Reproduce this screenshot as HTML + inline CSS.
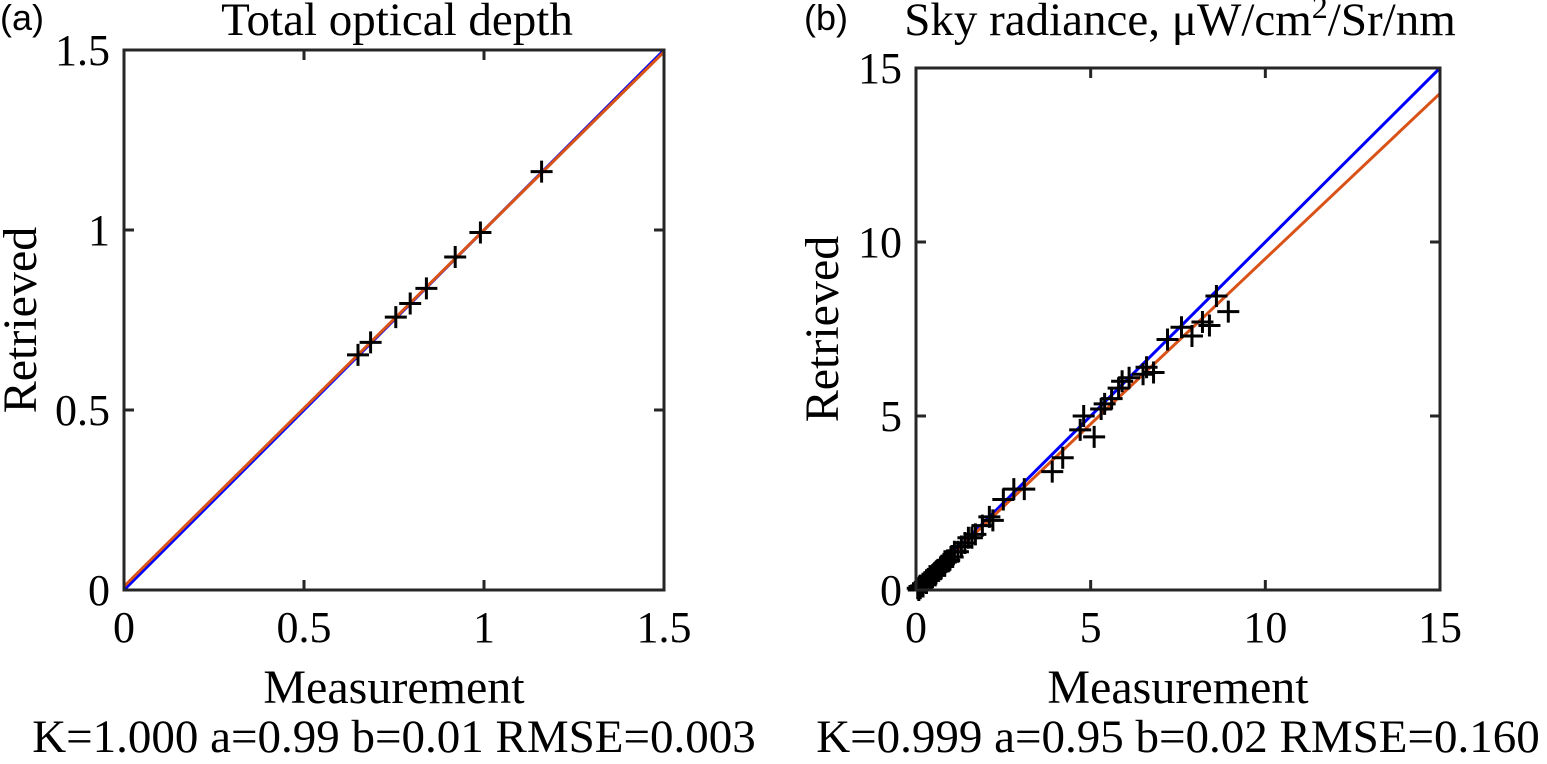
<!DOCTYPE html>
<html><head><meta charset="utf-8"><style>
body{margin:0;background:#fff}
svg text{font-family:"Liberation Serif",serif;fill:#000}
</style></head><body>
<svg id="c" width="1547" height="759" xmlns="http://www.w3.org/2000/svg"></svg>
<script>
const leftTicks=[0,0.5,1,1.5];
const leftTickLabels=["0","0.5","1","1.5"];
const leftMeasX=[0.65,0.685,0.755,0.795,0.84,0.92,0.99,1.16];
const leftRetY=[0.653,0.688,0.758,0.796,0.838,0.925,0.993,1.162];
const leftFitA=0.99, leftFitB=0.01;
const rightTicks=[0,5,10,15];
const rightTickLabels=["0","5","10","15"];
const rightMeasX=[8.94,8.6,8.2,8.4,7.9,7.6,7.2,6.8,6.6,6.5,6.1,5.9,5.8,5.6,5.3,5.4,5.1,4.8,4.7,4.2,3.9,3.1,2.8,2.5,2.1,1.9,1.7,1.5,1.3,1.1,1.0,0.9,0.8,0.7,0.6,0.5,0.4,0.3,0.2,0.1,0.05,1.2,0.95,0.75,0.55,0.35,0.25,0.15,1.6,2.2,0.45,0.65,0.85,1.05,1.4,0.3,0.2,0.12,0.08,0.55,0.7];
const rightRetY=[8.0,8.45,7.7,7.6,7.3,7.55,7.2,6.25,6.4,6.2,6.1,6.0,5.8,5.5,5.2,5.35,4.4,5.0,4.6,3.8,3.4,2.9,2.9,2.6,2.1,1.85,1.6,1.5,1.25,1.1,0.95,0.85,0.75,0.65,0.55,0.45,0.4,0.28,0.18,0.1,0.05,1.1,0.85,0.7,0.5,0.32,0.22,0.12,1.5,2.0,0.35,0.55,0.8,0.95,1.35,0.2,0.1,0.05,0.0,0.42,0.6];
const rightFitA=0.95, rightFitB=0.02;

const svg=document.getElementById('c');
const NS='http://www.w3.org/2000/svg';
function mk(tag,attrs,parent){const e=document.createElementNS(NS,tag);for(const k in attrs)e.setAttribute(k,attrs[k]);(parent||svg).appendChild(e);return e;}
function txt(s,attrs,parent){const e=mk('text',attrs,parent);e.textContent=s;return e;}

function panel(cfg){
  const g=mk('g',{});
  
  
  const x0=cfg.x0,x1=cfg.x1,y0=cfg.y0,y1=cfg.y1,max=cfg.max;
  const sx=v=>x0+(x1-x0)*v/max, sy=v=>y0-(y0-y1)*v/max;
  cfg.ticks.forEach((t,i)=>{
    const tx=sx(t),ty=sy(t);
    mk('line',{x1:tx,y1:y0,x2:tx,y2:y0-10,stroke:'#262626','stroke-width':3},g);
    mk('line',{x1:tx,y1:y1,x2:tx,y2:y1+10,stroke:'#262626','stroke-width':3},g);
    mk('line',{x1:x0,y1:ty,x2:x0+10,y2:ty,stroke:'#262626','stroke-width':3},g);
    mk('line',{x1:x1,y1:ty,x2:x1-10,y2:ty,stroke:'#262626','stroke-width':3},g);
    const xl=txt(cfg.labels[i],{x:tx,y:y0+52,'text-anchor':'middle','font-size':44},g);
    
    
    const yl=txt(cfg.labels[i],{x:x0-14,y:ty+15,'text-anchor':'end','font-size':44},g);
    
    
  });
  const l1=mk('line',{x1:sx(0),y1:sy(0),x2:sx(max),y2:sy(max),stroke:'#0000ff','stroke-width':3},g);
  
  
  const l2=mk('line',{x1:sx(0),y1:sy(cfg.b),x2:sx(max),y2:sy(cfg.a*max+cfg.b),stroke:'#d95319','stroke-width':3},g);
  
  
  cfg.xs.forEach((v,i)=>{
    const px=sx(v),py=sy(cfg.ys[i]);
    const p=mk('path',{d:`M${px-11},${py}H${px+11}M${px},${py-11}V${py+11}`,stroke:'#000','stroke-width':3},g);
    
    
  });
  mk('rect',{x:x0,y:y1,width:x1-x0,height:y0-y1,fill:'none',stroke:'#262626','stroke-width':3},g);
  const xt=txt('Measurement',{x:(x0+x1)/2,y:703,'text-anchor':'middle','font-size':48},g);
  
  
  const cy=(y0+y1)/2;
  const yt=txt('Retrieved',{x:cfg.ytx,y:cy,'text-anchor':'middle','font-size':48,transform:`rotate(-90 ${cfg.ytx} ${cy})`},g);
  
  
  const st=txt(cfg.stats,{x:cfg.statsX,y:752,'text-anchor':'middle','font-size':47},g);
  
  
  const pl=txt(cfg.tag,{x:cfg.tagX,y:30,'font-size':36,style:'font-family:"Liberation Sans",sans-serif'},g);
  
  
  const tt=mk('text',{x:cfg.titleX,y:35,'text-anchor':'middle','font-size':47},g);
  
  
  tt.innerHTML=cfg.title;
}
panel({name:'panel-a',x0:124,x1:664,y0:590,y1:50,max:1.5,ticks:leftTicks,labels:leftTickLabels,xs:leftMeasX,ys:leftRetY,a:leftFitA,b:leftFitB,ytx:36,stats:'K=1.000 a=0.99 b=0.01 RMSE=0.003',statsX:394,tag:'(a)',tagX:0,titleX:397,title:'Total optical depth'});
panel({name:'panel-b',x0:916,x1:1440,y0:590,y1:68,max:15,ticks:rightTicks,labels:rightTickLabels,xs:rightMeasX,ys:rightRetY,a:rightFitA,b:rightFitB,ytx:838,stats:'K=0.999 a=0.95 b=0.02 RMSE=0.160',statsX:1178,tag:'(b)',tagX:804,titleX:1180,title:'Sky radiance, μW/cm<tspan dy="-17" font-size="32">2</tspan><tspan dy="17">/Sr/nm</tspan>'});
</script>
</body></html>
